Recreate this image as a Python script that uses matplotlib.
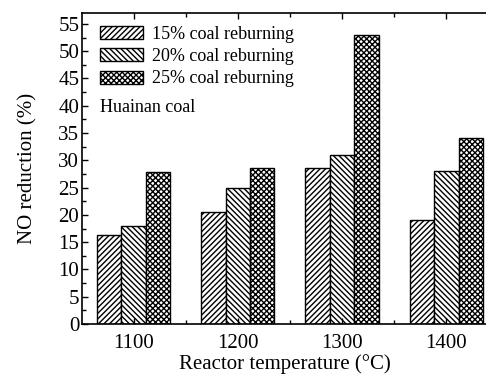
import matplotlib
matplotlib.use("Agg")
import matplotlib.pyplot as plt
from matplotlib.ticker import MultipleLocator
import numpy as np

plt.rcParams['font.family'] = ['Liberation Serif', 'DejaVu Serif']
plt.rcParams['hatch.linewidth'] = 1.0

temperatures = [1100, 1200, 1300, 1400]
series_labels = ["15% coal reburning", "20% coal reburning", "25% coal reburning"]
reduction_15 = [16.4, 20.6, 28.5, 19.0]
reduction_20 = [18.0, 25.0, 31.0, 28.0]
reduction_25 = [27.8, 28.5, 53.0, 34.0]
hatches = ['//////', '\\\\\\\\\\\\', 'xxxxxx']

fig = plt.figure(figsize=(4.86, 3.78), dpi=100)
ax = fig.add_axes([82/486, 1-324/378, (486-82)/486 + 0.002, (324-13)/378])

width = 23.4
x = np.array(temperatures, dtype=float)
for i, (vals, lab, h) in enumerate(zip([reduction_15, reduction_20, reduction_25], series_labels, hatches)):
    ax.bar(x + (i-1)*width, vals, width, facecolor='white', edgecolor='black',
           hatch=h, linewidth=1.0, label=lab)

ax.set_xlim(1050.5, 1439)
ax.set_ylim(0, 57)
ax.set_xticks(temperatures)
ax.xaxis.set_minor_locator(MultipleLocator(50))
ax.yaxis.set_major_locator(MultipleLocator(5))
ax.yaxis.set_minor_locator(MultipleLocator(2.5))
ax.tick_params(which='both', direction='in', top=True, right=False, labelsize=15)
ax.tick_params(which='major', length=4, width=1)
ax.tick_params(which='minor', length=3, width=1)
ax.tick_params(axis='x', pad=7)
ax.tick_params(axis='y', pad=2)
ax.spines['right'].set_visible(False)
for s in ['left', 'top', 'bottom']:
    ax.spines[s].set_linewidth(1.2)

ax.set_xlabel("Reactor temperature (°C)", fontsize=15, labelpad=1)
ax.set_ylabel("NO reduction (%)", fontsize=15, labelpad=15)

leg = ax.legend(loc='upper left', bbox_to_anchor=(0.013, 1.0), frameon=False, fontsize=13,
                handlelength=2.4, handleheight=0.75, handletextpad=0.5, labelspacing=0.3,
                borderaxespad=0.3)
ax.text(100/486, 1-107/378, "Huainan coal", transform=fig.transFigure, fontsize=13,
        ha='left', va='center')

fig.savefig("out.png", dpi=100)
